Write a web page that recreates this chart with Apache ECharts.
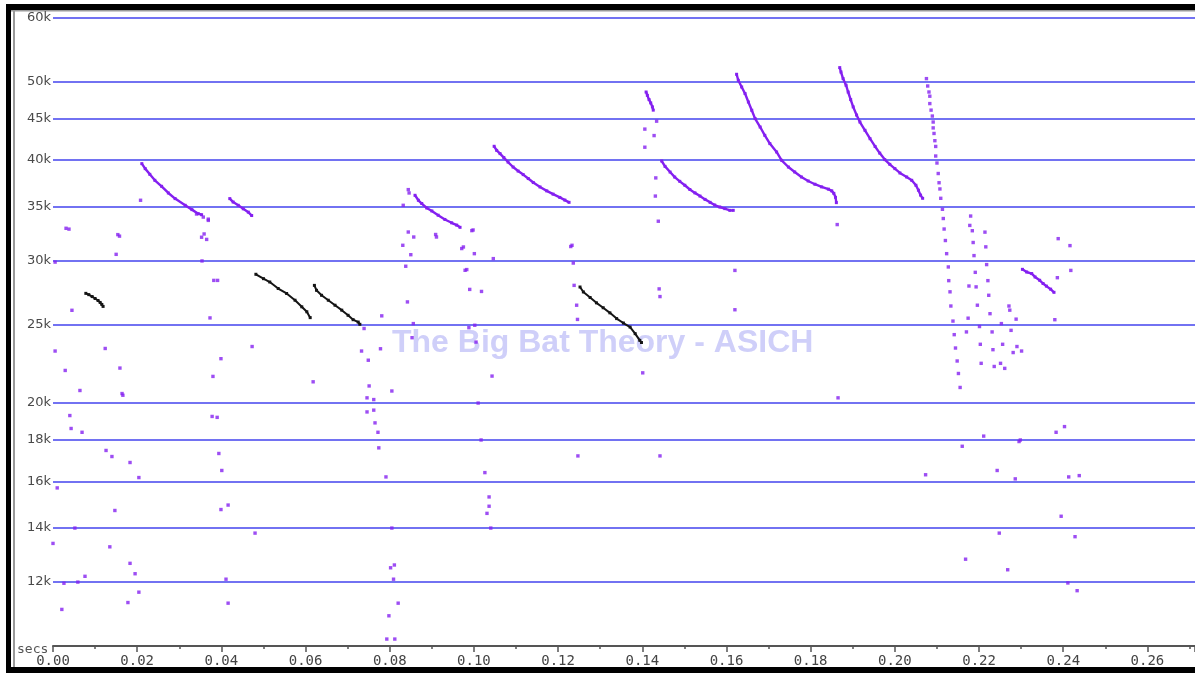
<!DOCTYPE html>
<html>
<head>
<meta charset="utf-8">
<style>
  html, body { margin: 0; padding: 0; background: #fff; }
  #chart { width: 1195px; height: 673px; }
</style>
<script src="https://cdn.jsdelivr.net/npm/echarts@6/dist/echarts.min.js"></script>
</head>
<body>
<div id="chart"></div>
<script>
// Frequency gridlines / labels (kHz)
const freqTicks = [12, 14, 16, 18, 20, 25, 30, 35, 40, 45, 50, 60];

// Call sweeps: [time (s), frequency (kHz)]
const sweepA = [[0.0211,39.6],[0.0219,39.04],[0.0230,38.41],[0.0242,37.76],[0.0258,37.12],[0.0274,36.42],[0.0290,35.84],[0.0314,35.16],[0.0330,34.73],[0.0345,34.33],[0.0353,34.23]];
const sweepB = [[0.0420,35.84],[0.0428,35.49],[0.0440,35.16],[0.0452,34.81],[0.0464,34.48],[0.0472,34.15]];
const sweepC = [[0.0860,36.18],[0.0868,35.67],[0.0876,35.34],[0.0888,34.89],[0.0900,34.60],[0.0915,34.18],[0.0931,33.77],[0.0947,33.45],[0.0959,33.23],[0.0967,33.02]];
const sweepD = [[0.1048,41.61],[0.1054,41.13],[0.1062,40.75],[0.1071,40.29],[0.1081,39.78],[0.1093,39.22],[0.1105,38.77],[0.1117,38.38],[0.1129,37.95],[0.1141,37.52],[0.1157,37.05],[0.1173,36.64],[0.1188,36.30],[0.1204,35.96],[0.1216,35.69],[0.1226,35.46]];
const sweepE = [[0.1409,48.58],[0.1412,48.12],[0.1416,47.54],[0.1420,47.09],[0.1424,46.56],[0.1426,46.13]];
const sweepF = [[0.1446,39.9],[0.1454,39.29],[0.1466,38.66],[0.1477,38.11],[0.1489,37.65],[0.1501,37.23],[0.1513,36.78],[0.1525,36.43],[0.1537,36.10],[0.1549,35.76],[0.1561,35.46],[0.1572,35.19],[0.1584,34.99],[0.1596,34.83],[0.1608,34.66],[0.1616,34.66]];
const sweepG = [[0.1624,51.1],[0.1628,50.23],[0.1636,49.28],[0.1644,48.37],[0.1652,47.21],[0.1660,46.11],[0.1668,45.03],[0.1680,43.96],[0.1691,42.93],[0.1703,41.93],[0.1719,40.94],[0.1731,39.98],[0.1747,39.22],[0.1762,38.67],[0.1778,38.12],[0.1794,37.69],[0.1810,37.34],[0.1826,37.06],[0.1842,36.82],[0.1850,36.64],[0.1855,36.38],[0.1859,35.97],[0.1861,35.43]];
const sweepH = [[0.1869,52.08],[0.1872,51.43],[0.1877,50.47],[0.1884,49.53],[0.1889,48.58],[0.1895,47.54],[0.1901,46.56],[0.1909,45.49],[0.1917,44.59],[0.1929,43.55],[0.1941,42.52],[0.1953,41.59],[0.1964,40.81],[0.1976,40.06],[0.1988,39.52],[0.2000,39.04],[0.2012,38.56],[0.2028,38.12],[0.2040,37.76],[0.2050,37.23],[0.2056,36.71],[0.2061,36.20],[0.2066,35.87]];
const sweepI = [[0.2303,29.29],[0.2313,29.07],[0.2325,28.94],[0.2333,28.66],[0.2344,28.39],[0.2352,28.13],[0.2360,27.92],[0.2370,27.68],[0.2378,27.43]];

// Low-frequency sweeps drawn in black
const blackA = [[0.0078,27.35],[0.0085,27.25],[0.0093,27.10],[0.0100,26.95],[0.0107,26.80],[0.0112,26.65],[0.0116,26.50],[0.0119,26.35]];
const blackB = [[0.0482,28.88],[0.0500,28.52],[0.0515,28.25],[0.0535,27.73],[0.0555,27.34],[0.0575,26.82],[0.0591,26.32],[0.0603,25.95],[0.0611,25.52]];
const blackC = [[0.0621,27.98],[0.0626,27.59],[0.0638,27.20],[0.0654,26.82],[0.0670,26.44],[0.0686,26.07],[0.0701,25.69],[0.0713,25.37],[0.0725,25.20],[0.0729,25.04]];
const blackD = [[0.1252,27.85],[0.1260,27.46],[0.1276,27.03],[0.1291,26.62],[0.1307,26.25],[0.1323,25.87],[0.1339,25.45],[0.1355,25.13],[0.1371,24.84],[0.1383,24.38],[0.1394,23.92],[0.1398,23.77]];

// Steep sweep near 0.21 s, separate points
const steepDots = [[0.2075,50.47],[0.2078,49.42],[0.2081,48.58],[0.2083,48.0],[0.2083,47.0],[0.2086,46.13],[0.2089,45.36],[0.2091,44.59],[0.2091,43.85],[0.2093,43.16],[0.2095,42.28],[0.2097,41.59],[0.2097,40.47],[0.2100,39.67],[0.2103,38.5],[0.2105,37.5],[0.2107,36.84],[0.2109,35.87],[0.2113,34.76],[0.2115,33.86],[0.2117,32.86],[0.2120,31.8],[0.2123,30.63],[0.2127,29.49],[0.2128,28.36],[0.2131,27.47],[0.2133,26.38],[0.2138,25.27],[0.2141,24.31],[0.2144,23.4],[0.2148,22.55],[0.2151,21.76],[0.2155,20.91]];

// Isolated zero-crossing points
const looseDots = [
  [0.0031,32.93],[0.0038,32.85],[0.0005,23.2],[0.0029,21.95],[0.0040,19.3],[0.0043,18.6],[0.0045,26.06],[0.0064,20.73],[0.0069,18.4],[0.0052,14.0],[0.0059,12.0],[0.0076,12.2],[0.0021,11.1],[0.0026,11.96],[0.0010,15.7],[0.0000,13.4],[0.0005,29.9],
  [0.0154,32.34],[0.0158,32.2],[0.0150,30.57],[0.0124,23.37],[0.0159,22.1],[0.0164,20.55],[0.0166,20.45],[0.0126,17.47],[0.0140,17.17],[0.0147,14.72],[0.0135,13.27],[0.0183,16.88],[0.0204,16.17],[0.0178,11.32],[0.0183,12.66],[0.0195,12.29],[0.0204,11.66],[0.0208,35.67],
  [0.0354,30.0],[0.0373,25.5],[0.0382,28.38],[0.0391,28.38],[0.0353,32.1],[0.0365,31.9],[0.0359,32.4],[0.0369,33.8],[0.0341,34.3],[0.0357,34.0],[0.0369,33.68],
  [0.0380,21.58],[0.0378,19.25],[0.0390,19.2],[0.0394,17.32],[0.0399,14.76],[0.0401,16.5],[0.0411,12.1],[0.0416,14.95],[0.0416,11.3],[0.0399,22.7],[0.0473,23.5],[0.0480,13.8],[0.0618,21.25],
  [0.0739,24.74],[0.0749,22.6],[0.0733,23.2],[0.0781,25.65],[0.0778,23.35],[0.0832,35.16],[0.0844,36.77],[0.0846,36.42],[0.0844,32.58],[0.0857,32.12],[0.0831,31.37],[0.0850,30.54],[0.0838,29.55],[0.0842,26.69],[0.0856,25.09],[0.0853,24.1],
  [0.0909,32.35],[0.0911,32.12],[0.0971,31.08],[0.0975,31.22],[0.0995,32.71],[0.0998,32.77],[0.1001,30.63],[0.0979,29.21],[0.0983,29.27],[0.0990,27.66],[0.1018,27.5],[0.1002,24.97],[0.0988,24.8],[0.1005,23.8],[0.1046,30.2],
  [0.0805,20.7],[0.0791,16.2],[0.0805,14.0],[0.0802,12.5],[0.0811,12.6],[0.0809,12.1],[0.0820,11.3],[0.0798,10.9],[0.0793,10.2],[0.0812,10.2],[0.0751,21.0],[0.0762,20.2],[0.0746,20.3],[0.0762,19.6],[0.0765,18.9],[0.0772,18.4],[0.0746,19.5],[0.0774,17.6],
  [0.1010,20.0],[0.1017,18.0],[0.1026,16.4],[0.1036,15.3],[0.1036,14.9],[0.1031,14.6],[0.1040,14.0],[0.1043,21.6],
  [0.1230,31.26],[0.1233,31.37],[0.1236,29.82],[0.1238,27.98],[0.1244,26.44],[0.1246,25.39],[0.1247,17.2],
  [0.1406,41.5],[0.1432,38.02],[0.1431,36.1],[0.1438,33.6],[0.1440,27.7],[0.1442,27.1],[0.1434,44.7],[0.1406,43.7],[0.1428,42.9],[0.1401,21.8],[0.1442,17.2],
  [0.1620,29.2],[0.1620,26.1],[0.1863,33.28],[0.1865,20.3],[0.2073,16.3],
  [0.2180,34.1],[0.2178,33.2],[0.2184,32.7],[0.2214,32.57],[0.2186,31.62],[0.2216,31.23],[0.2188,30.46],[0.2218,29.69],[0.2191,29.04],[0.2176,27.93],[0.2193,27.86],[0.2221,28.36],[0.2223,27.2],[0.2196,26.44],[0.2174,25.48],[0.2226,25.81],[0.2201,24.88],[0.2253,25.09],
  [0.2271,26.38],[0.2273,26.07],[0.2288,25.41],[0.2170,24.5],[0.2231,24.5],[0.2276,24.61],[0.2203,23.65],[0.2233,23.29],[0.2256,23.65],[0.2290,23.5],[0.2281,23.1],[0.2301,23.2],[0.2205,22.4],[0.2236,22.2],[0.2251,22.4],[0.2261,22.08],
  [0.2388,31.97],[0.2416,31.34],[0.2386,28.6],[0.2418,29.2],[0.2380,25.37],
  [0.2211,18.2],[0.2160,17.68],[0.2295,17.92],[0.2298,18.0],[0.2383,18.4],[0.2403,18.7],[0.2243,16.5],[0.2286,16.11],[0.2413,16.2],[0.2438,16.26],[0.2395,14.48],[0.2248,13.8],[0.2428,13.66],[0.2168,12.81],[0.2268,12.43],[0.2411,11.97],[0.2433,11.71]
];

const purple = '#8420f0';
const gridBlue = '#7272f2';

const chart = echarts.init(document.getElementById('chart'), null, { renderer: 'canvas' });

function sweepSeries(data, color, width) {
  return {
    type: 'line', data: data, silent: true, animation: false,
    showSymbol: true, symbol: 'rect', symbolSize: 3,
    lineStyle: { color: color, width: width },
    itemStyle: { color: color }, z: 5
  };
}

const series = [];
[sweepA, sweepB, sweepC, sweepD, sweepE, sweepF, sweepG, sweepH, sweepI].forEach(s => series.push(sweepSeries(s, purple, 2.4)));
[blackA, blackB, blackC, blackD].forEach(s => series.push(sweepSeries(s, '#151515', 2.0)));
series.push({ type: 'scatter', data: steepDots, symbol: 'rect', symbolSize: 3.4, itemStyle: { color: purple }, animation: false, silent: true, z: 5 });
series.push({ type: 'scatter', data: looseDots, symbol: 'rect', symbolSize: 3.4, itemStyle: { color: purple }, animation: false, silent: true, z: 5 });

chart.setOption({
  backgroundColor: '#ffffff',
  animation: false,
  grid: { left: 53, right: 0, top: 18, bottom: 27, containLabel: false },
  xAxis: {
    type: 'value', min: 0, max: 0.2713, interval: 0.02,
    axisLine: { show: true, onZero: false, lineStyle: { color: '#555', width: 2 } },
    axisTick: { show: true, inside: false, length: 6, lineStyle: { color: '#555', width: 1.5 } },
    minorTick: { show: true, splitNumber: 2, length: 3, lineStyle: { color: '#555', width: 1.5 } },
    axisLabel: { color: '#444', fontFamily: '"DejaVu Sans Mono", monospace', fontSize: 14, margin: 8, formatter: v => v.toFixed(2), showMaxLabel: false },
    splitLine: { show: false }
  },
  yAxis: {
    type: 'log', logBase: 10, min: 10, max: 60,
    axisLine: { show: false },
    axisTick: { show: false, customValues: freqTicks },
    axisLabel: { customValues: freqTicks, color: '#4a4a4a', fontFamily: 'DejaVu Sans', fontSize: 13, margin: 2, formatter: v => Math.round(v) + 'k' },
    splitLine: { show: true, lineStyle: { color: gridBlue, width: 2 } }
  },
  graphic: [
    { type: 'text', left: 392, top: 327, z: 1, silent: true,
      style: { text: 'The Big Bat Theory - ASICH', fill: '#cfcff9', font: 'bold 32px "Liberation Sans", Arial, sans-serif' } },
    { type: 'text', left: 17, top: 643, silent: true,
      style: { text: 'secs', fill: '#555', font: '13px "DejaVu Sans Mono", monospace' } },
    { type: 'rect', shape: { x: 6, y: 4, width: 1189, height: 6 }, style: { fill: '#000' }, silent: true },
    { type: 'rect', shape: { x: 6, y: 4, width: 5, height: 669 }, style: { fill: '#000' }, silent: true },
    { type: 'rect', shape: { x: 6, y: 667, width: 1189, height: 6 }, style: { fill: '#000' }, silent: true },
    { type: 'rect', shape: { x: 13, y: 10, width: 2, height: 657 }, style: { fill: '#9a9a9a' }, silent: true },
    { type: 'rect', shape: { x: 11, y: 10, width: 1184, height: 1.5 }, style: { fill: '#9a9a9a' }, silent: true }
  ],
  series: series
});
</script>
</body>
</html>
